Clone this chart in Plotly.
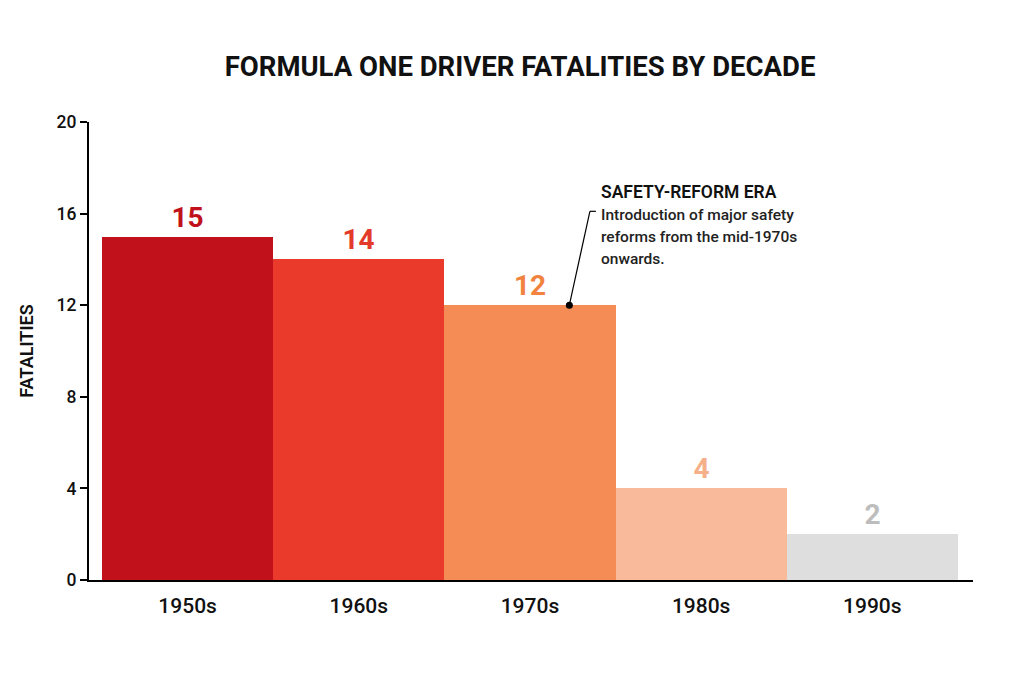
import plotly.graph_objects as go

decades = ["1950s", "1960s", "1970s", "1980s", "1990s"]
fatalities = [15, 14, 12, 4, 2]
bar_colors = ["#C1121B", "#EA3A2B", "#F58B55", "#F8BA9B", "#DEDEDE"]
label_colors = ["#C1121B", "#E33A2A", "#F2823F", "#F5B08A", "#BDBDBD"]
y_ticks = [0, 4, 8, 12, 16, 20]

note_head = "SAFETY-REFORM ERA"
note_lines = ["Introduction of major safety", "reforms from the mid-1970s", "onwards."]

FONT = "Roboto"
W, H = 1008, 667  # page has an 8px body margin

fig = go.Figure()
fig.add_trace(go.Bar(
    x=decades,
    y=fatalities,
    marker=dict(color=bar_colors, line=dict(width=0)),
    text=[f"{v}" for v in fatalities],
    textposition="outside",
    textfont=dict(family=FONT, size=28, color=label_colors, weight=700),
    cliponaxis=False,
    hoverinfo="skip",
))

# leader line from the 1970s bar up to the note
fig.add_shape(type="line", x0=2.23, y0=fatalities[2], x1=2.35, y1=16.1,
              line=dict(color="black", width=1.2))
fig.add_shape(type="line", x0=2.35, y0=16.1, x1=2.385, y1=16.1,
              line=dict(color="black", width=1.2))
fig.add_shape(type="circle", xsizemode="pixel", ysizemode="pixel",
              xanchor=2.23, yanchor=fatalities[2], x0=-3.5, x1=3.5, y0=-3.5, y1=3.5,
              fillcolor="black", line=dict(width=0))

fig.add_annotation(x=0.577, y=1 - (180 - 122) / 458, xref="paper", yref="paper",
                   text=note_head, showarrow=False,
                   xanchor="left", yanchor="top",
                   font=dict(family=FONT, size=17.5, color="#111111", weight=600))
for i, line in enumerate(note_lines):
    fig.add_annotation(x=0.577, y=1 - (204 + 22 * i - 122) / 458, xref="paper", yref="paper",
                       text=line, showarrow=False, xanchor="left", yanchor="top",
                       font=dict(family=FONT, size=15.5, color="#222222", weight=500))

fig.update_layout(
    width=W, height=H,
    margin=dict(l=81, r=43, t=114, b=95),
    paper_bgcolor="white", plot_bgcolor="white",
    showlegend=False,
    bargap=0,
    title=dict(text="FORMULA ONE DRIVER FATALITIES BY DECADE",
               x=0.508, xanchor="center", y=1 - 58 / H, yanchor="middle",
               font=dict(family=FONT, size=27.5, color="#111111", weight=700)),
    xaxis=dict(type="category", range=[-0.576, 4.588],
               showline=True, linecolor="black", linewidth=2,
               ticks="", showgrid=False, ticklabelstandoff=6,
               tickfont=dict(family=FONT, size=21, color="#111111", weight=500)),
    yaxis=dict(range=[0, 20], tickvals=y_ticks,
               showline=True, linecolor="black", linewidth=2,
               ticks="outside", ticklen=7, tickwidth=1.5, tickcolor="black",
               showgrid=False, zeroline=False,
               tickfont=dict(family=FONT, size=17.5, color="#111111", weight=500),
               title=dict(text="FATALITIES", standoff=18,
                          font=dict(family=FONT, size=18, color="#111111", weight=600))),
)

fig.write_html("out.html")
